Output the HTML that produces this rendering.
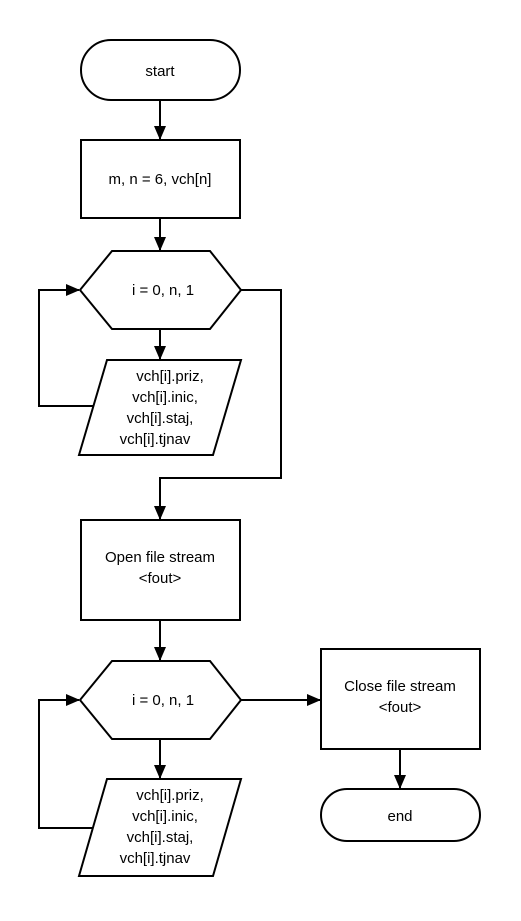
<!DOCTYPE html>
<html><head><style>body{margin:0;background:#fff}</style></head><body>
<svg width="521" height="916" xmlns="http://www.w3.org/2000/svg" font-family="Liberation Sans, sans-serif" font-size="15" text-anchor="middle">
<defs><marker id="a" markerWidth="14" markerHeight="12" refX="13" refY="6" orient="auto" markerUnits="userSpaceOnUse"><path d="M0,0 L14,6 L0,12 z" fill="#000"/></marker></defs>
<g fill="none" stroke="#000" stroke-width="2">
<rect x="81" y="40" width="159" height="60" rx="30"/>
<rect x="81" y="140" width="159" height="78"/>
<polygon points="80,290 112,251 210,251 241,290 210,329 112,329"/>
<polygon points="107,360 241,360 213,455 79,455"/>
<rect x="81" y="520" width="159" height="100"/>
<polygon points="80,700 112,661 210,661 241,700 210,739 112,739"/>
<polygon points="107,779 241,779 213,876 79,876"/>
<rect x="321" y="649" width="159" height="100"/>
<rect x="321" y="789" width="159" height="52" rx="26"/>
<g marker-end="url(#a)">
<line x1="160" y1="100" x2="160" y2="139"/>
<line x1="160" y1="218" x2="160" y2="250"/>
<line x1="160" y1="329" x2="160" y2="359"/>
<polyline points="93,406 39,406 39,290 79,290"/>
<polyline points="241,290 281,290 281,478 160,478 160,519"/>
<line x1="160" y1="620" x2="160" y2="660"/>
<line x1="160" y1="739" x2="160" y2="778"/>
<polyline points="93,828 39,828 39,700 79,700"/>
<line x1="241" y1="700" x2="320" y2="700"/>
<line x1="400" y1="749" x2="400" y2="788"/>
</g></g>
<g fill="#000">
<text x="160" y="76">start</text>
<text x="160" y="184">m, n = 6, vch[n]</text>
<text x="163" y="295">i = 0, n, 1</text>
<text x="170" y="381">vch[i].priz,</text>
<text x="165" y="402">vch[i].inic,</text>
<text x="160" y="423">vch[i].staj,</text>
<text x="155" y="444">vch[i].tjnav</text>
<text x="160" y="562">Open file stream</text>
<text x="160" y="583">&lt;fout&gt;</text>
<text x="163" y="705">i = 0, n, 1</text>
<text x="170" y="800">vch[i].priz,</text>
<text x="165" y="821">vch[i].inic,</text>
<text x="160" y="842">vch[i].staj,</text>
<text x="155" y="863">vch[i].tjnav</text>
<text x="400" y="691">Close file stream</text>
<text x="400" y="712">&lt;fout&gt;</text>
<text x="400" y="821">end</text>
</g>
</svg>
</body></html>
